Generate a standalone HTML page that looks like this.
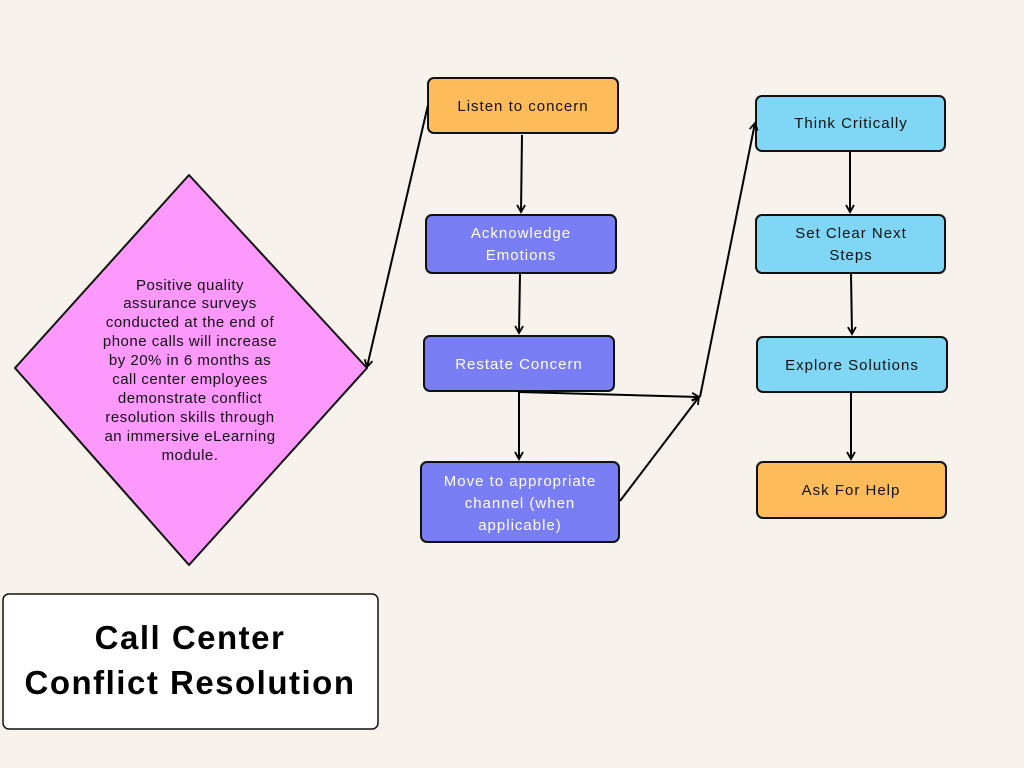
<!DOCTYPE html>
<html><head><meta charset="utf-8"><style>
html,body{margin:0;padding:0;background:#f7f3ec;}
svg{display:block;}
text{font-family:"Liberation Sans",sans-serif;}
</style></head><body>
<svg width="1024" height="768" viewBox="0 0 1024 768" xmlns="http://www.w3.org/2000/svg">
<defs><marker id="a" markerWidth="10" markerHeight="10" refX="8" refY="5" orient="auto" markerUnits="userSpaceOnUse"><path d="M1,1 L8,5 L1,9" fill="none" stroke="#000" stroke-width="1.8"/></marker></defs>
<rect width="1024" height="768" fill="#f7f3ec"/>
<g stroke="#111" stroke-width="2">
<path d="M189,175 L367,368 L189,565 L15,368 Z" fill="#fd99fd" stroke-linejoin="round"/>
<rect x="428" y="78" width="190" height="55" rx="6" fill="#fdbb5a"/>
<rect x="426" y="215" width="190" height="58" rx="6" fill="#7a7ef4"/>
<rect x="424" y="336" width="190" height="55" rx="6" fill="#7a7ef4"/>
<rect x="421" y="462" width="198" height="80" rx="6" fill="#7a7ef4"/>
<rect x="756" y="96" width="189" height="55" rx="6" fill="#7fd6f5"/>
<rect x="756" y="215" width="189" height="58" rx="6" fill="#7fd6f5"/>
<rect x="757" y="337" width="190" height="55" rx="6" fill="#7fd6f5"/>
<rect x="757" y="462" width="189" height="56" rx="6" fill="#fdbb5a"/>
<rect x="3" y="594" width="375" height="135" rx="6" fill="#fff" stroke-width="1.5"/>
</g>
<g stroke="#000" stroke-width="2" fill="none">
<line x1="522" y1="135" x2="521" y2="212" marker-end="url(#a)"/>
<line x1="520" y1="274" x2="519" y2="333" marker-end="url(#a)"/>
<line x1="519" y1="392" x2="519" y2="459" marker-end="url(#a)"/>
<line x1="428" y1="105" x2="367" y2="367" marker-end="url(#a)"/>
<line x1="519" y1="392" x2="699" y2="397" marker-end="url(#a)"/>
<line x1="620" y1="501" x2="699" y2="397" marker-end="url(#a)"/>
<line x1="700" y1="397" x2="755" y2="123" marker-end="url(#a)"/>
<line x1="850" y1="152" x2="850" y2="212" marker-end="url(#a)"/>
<line x1="851" y1="274" x2="852" y2="334" marker-end="url(#a)"/>
<line x1="851" y1="393" x2="851" y2="459" marker-end="url(#a)"/>
</g>
<g font-size="15" text-anchor="middle" letter-spacing="1">
<text x="523" y="111" fill="#111">Listen to concern</text>
<text x="521" y="238" fill="#fff">Acknowledge</text>
<text x="521" y="260" fill="#fff">Emotions</text>
<text x="519" y="369" fill="#fff">Restate Concern</text>
<text x="520" y="486" fill="#fff">Move to appropriate</text>
<text x="520" y="508" fill="#fff">channel (when</text>
<text x="520" y="530" fill="#fff">applicable)</text>
<text x="851" y="128" fill="#111">Think Critically</text>
<text x="851" y="238" fill="#111">Set Clear Next</text>
<text x="851" y="260" fill="#111">Steps</text>
<text x="852" y="370" fill="#111">Explore Solutions</text>
<text x="851" y="495" fill="#111">Ask For Help</text>
</g>
<g font-size="15" text-anchor="middle" fill="#111" letter-spacing="0.5">
<text x="190" y="290">Positive quality</text>
<text x="190" y="308">assurance surveys</text>
<text x="190" y="327">conducted at the end of</text>
<text x="190" y="346">phone calls will increase</text>
<text x="190" y="365">by 20% in 6 months as</text>
<text x="190" y="384">call center employees</text>
<text x="190" y="403">demonstrate conflict</text>
<text x="190" y="422">resolution skills through</text>
<text x="190" y="441">an immersive eLearning</text>
<text x="190" y="460">module.</text>
</g>
<g font-size="33" font-weight="bold" text-anchor="middle" fill="#000" letter-spacing="1.5">
<text x="190" y="649">Call Center</text>
<text x="190" y="694">Conflict Resolution</text>
</g>
</svg>
</body></html>
